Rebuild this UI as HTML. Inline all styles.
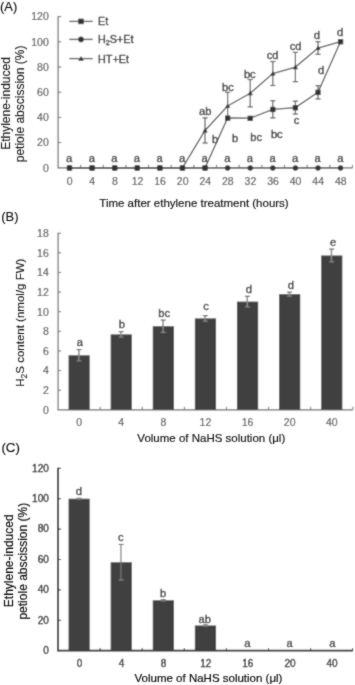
<!DOCTYPE html>
<html><head><meta charset="utf-8"><style>
html,body{margin:0;padding:0;background:#fff;width:355px;height:685px;overflow:hidden}
svg{display:block;font-family:"Liberation Sans", sans-serif;}
#w{will-change:transform;width:355px;height:685px}
text{stroke:currentColor;stroke-width:0.35px}
</style></head><body><div id="w">
<svg width="355" height="685" viewBox="0 0 355 685">
<defs><filter id="bl" x="0" y="0" width="355" height="685" filterUnits="userSpaceOnUse"><feConvolveMatrix order="3" kernelMatrix="1 2 1 2 12 2 1 2 1" divisor="24" edgeMode="none" preserveAlpha="false"/></filter><filter id="bl2" x="0" y="0" width="355" height="685" filterUnits="userSpaceOnUse"><feConvolveMatrix order="3" kernelMatrix="1 2 1 2 20 2 1 2 1" divisor="32" edgeMode="none" preserveAlpha="false"/></filter></defs>
<g filter="url(#bl)">
<rect width="355" height="685" fill="#fff"/>
<line x1="58.10" y1="16.10" x2="58.10" y2="167.80" stroke="#6a6a6a" stroke-width="1.2"/>
<line x1="57.50" y1="167.80" x2="352.50" y2="167.80" stroke="#6a6a6a" stroke-width="1.3"/>
<text x="48.80" y="171.60" font-size="10.5" text-anchor="end" fill="#4a4a4a" color="#4a4a4a" style="stroke-width:0.15px">0</text>
<line x1="58.10" y1="142.60" x2="61.30" y2="142.60" stroke="#6a6a6a" stroke-width="1"/>
<text x="48.80" y="146.40" font-size="10.5" text-anchor="end" fill="#4a4a4a" color="#4a4a4a" style="stroke-width:0.15px">20</text>
<line x1="58.10" y1="117.40" x2="61.30" y2="117.40" stroke="#6a6a6a" stroke-width="1"/>
<text x="48.80" y="121.20" font-size="10.5" text-anchor="end" fill="#4a4a4a" color="#4a4a4a" style="stroke-width:0.15px">40</text>
<line x1="58.10" y1="92.20" x2="61.30" y2="92.20" stroke="#6a6a6a" stroke-width="1"/>
<text x="48.80" y="96.00" font-size="10.5" text-anchor="end" fill="#4a4a4a" color="#4a4a4a" style="stroke-width:0.15px">60</text>
<line x1="58.10" y1="67.00" x2="61.30" y2="67.00" stroke="#6a6a6a" stroke-width="1"/>
<text x="48.80" y="70.80" font-size="10.5" text-anchor="end" fill="#4a4a4a" color="#4a4a4a" style="stroke-width:0.15px">80</text>
<line x1="58.10" y1="41.80" x2="61.30" y2="41.80" stroke="#6a6a6a" stroke-width="1"/>
<text x="48.80" y="45.60" font-size="10.5" text-anchor="end" fill="#4a4a4a" color="#4a4a4a" style="stroke-width:0.15px">100</text>
<line x1="58.10" y1="16.60" x2="61.30" y2="16.60" stroke="#6a6a6a" stroke-width="1"/>
<text x="48.80" y="20.40" font-size="10.5" text-anchor="end" fill="#4a4a4a" color="#4a4a4a" style="stroke-width:0.15px">120</text>
<line x1="80.65" y1="167.80" x2="80.65" y2="164.80" stroke="#6a6a6a" stroke-width="1"/>
<line x1="103.30" y1="167.80" x2="103.30" y2="164.80" stroke="#6a6a6a" stroke-width="1"/>
<line x1="125.95" y1="167.80" x2="125.95" y2="164.80" stroke="#6a6a6a" stroke-width="1"/>
<line x1="148.60" y1="167.80" x2="148.60" y2="164.80" stroke="#6a6a6a" stroke-width="1"/>
<line x1="171.25" y1="167.80" x2="171.25" y2="164.80" stroke="#6a6a6a" stroke-width="1"/>
<line x1="193.90" y1="167.80" x2="193.90" y2="164.80" stroke="#6a6a6a" stroke-width="1"/>
<line x1="216.55" y1="167.80" x2="216.55" y2="164.80" stroke="#6a6a6a" stroke-width="1"/>
<line x1="239.20" y1="167.80" x2="239.20" y2="164.80" stroke="#6a6a6a" stroke-width="1"/>
<line x1="261.85" y1="167.80" x2="261.85" y2="164.80" stroke="#6a6a6a" stroke-width="1"/>
<line x1="284.50" y1="167.80" x2="284.50" y2="164.80" stroke="#6a6a6a" stroke-width="1"/>
<line x1="307.15" y1="167.80" x2="307.15" y2="164.80" stroke="#6a6a6a" stroke-width="1"/>
<line x1="329.80" y1="167.80" x2="329.80" y2="164.80" stroke="#6a6a6a" stroke-width="1"/>
<line x1="352.45" y1="167.80" x2="352.45" y2="164.80" stroke="#6a6a6a" stroke-width="1"/>
<text x="69.70" y="184.60" font-size="10.5" text-anchor="middle" fill="#4a4a4a" color="#4a4a4a" style="stroke-width:0.15px">0</text>
<text x="92.29" y="184.60" font-size="10.5" text-anchor="middle" fill="#4a4a4a" color="#4a4a4a" style="stroke-width:0.15px">4</text>
<text x="114.88" y="184.60" font-size="10.5" text-anchor="middle" fill="#4a4a4a" color="#4a4a4a" style="stroke-width:0.15px">8</text>
<text x="137.47" y="184.60" font-size="10.5" text-anchor="middle" fill="#4a4a4a" color="#4a4a4a" style="stroke-width:0.15px">12</text>
<text x="160.06" y="184.60" font-size="10.5" text-anchor="middle" fill="#4a4a4a" color="#4a4a4a" style="stroke-width:0.15px">16</text>
<text x="182.65" y="184.60" font-size="10.5" text-anchor="middle" fill="#4a4a4a" color="#4a4a4a" style="stroke-width:0.15px">20</text>
<text x="205.24" y="184.60" font-size="10.5" text-anchor="middle" fill="#4a4a4a" color="#4a4a4a" style="stroke-width:0.15px">24</text>
<text x="227.83" y="184.60" font-size="10.5" text-anchor="middle" fill="#4a4a4a" color="#4a4a4a" style="stroke-width:0.15px">28</text>
<text x="250.42" y="184.60" font-size="10.5" text-anchor="middle" fill="#4a4a4a" color="#4a4a4a" style="stroke-width:0.15px">32</text>
<text x="273.01" y="184.60" font-size="10.5" text-anchor="middle" fill="#4a4a4a" color="#4a4a4a" style="stroke-width:0.15px">36</text>
<text x="295.60" y="184.60" font-size="10.5" text-anchor="middle" fill="#4a4a4a" color="#4a4a4a" style="stroke-width:0.15px">40</text>
<text x="318.19" y="184.60" font-size="10.5" text-anchor="middle" fill="#4a4a4a" color="#4a4a4a" style="stroke-width:0.15px">44</text>
<text x="340.78" y="184.60" font-size="10.5" text-anchor="middle" fill="#4a4a4a" color="#4a4a4a" style="stroke-width:0.15px">48</text>
<line x1="205.04" y1="117.90" x2="205.04" y2="143.00" stroke="#5a5a5a" stroke-width="1.2"/>
<line x1="202.44" y1="117.90" x2="207.64" y2="117.90" stroke="#5a5a5a" stroke-width="1.2"/>
<line x1="202.44" y1="143.00" x2="207.64" y2="143.00" stroke="#5a5a5a" stroke-width="1.2"/>
<line x1="227.63" y1="92.30" x2="227.63" y2="119.70" stroke="#5a5a5a" stroke-width="1.2"/>
<line x1="225.03" y1="92.30" x2="230.23" y2="92.30" stroke="#5a5a5a" stroke-width="1.2"/>
<line x1="225.03" y1="119.70" x2="230.23" y2="119.70" stroke="#5a5a5a" stroke-width="1.2"/>
<line x1="250.22" y1="79.50" x2="250.22" y2="106.90" stroke="#5a5a5a" stroke-width="1.2"/>
<line x1="247.62" y1="79.50" x2="252.82" y2="79.50" stroke="#5a5a5a" stroke-width="1.2"/>
<line x1="247.62" y1="106.90" x2="252.82" y2="106.90" stroke="#5a5a5a" stroke-width="1.2"/>
<line x1="272.81" y1="61.50" x2="272.81" y2="85.50" stroke="#5a5a5a" stroke-width="1.2"/>
<line x1="270.21" y1="61.50" x2="275.41" y2="61.50" stroke="#5a5a5a" stroke-width="1.2"/>
<line x1="270.21" y1="85.50" x2="275.41" y2="85.50" stroke="#5a5a5a" stroke-width="1.2"/>
<line x1="295.40" y1="52.40" x2="295.40" y2="81.70" stroke="#5a5a5a" stroke-width="1.2"/>
<line x1="292.80" y1="52.40" x2="298.00" y2="52.40" stroke="#5a5a5a" stroke-width="1.2"/>
<line x1="292.80" y1="81.70" x2="298.00" y2="81.70" stroke="#5a5a5a" stroke-width="1.2"/>
<line x1="317.99" y1="41.65" x2="317.99" y2="54.35" stroke="#5a5a5a" stroke-width="1.2"/>
<line x1="315.39" y1="41.65" x2="320.59" y2="41.65" stroke="#5a5a5a" stroke-width="1.2"/>
<line x1="315.39" y1="54.35" x2="320.59" y2="54.35" stroke="#5a5a5a" stroke-width="1.2"/>
<line x1="272.81" y1="100.70" x2="272.81" y2="117.90" stroke="#5a5a5a" stroke-width="1.2"/>
<line x1="270.21" y1="100.70" x2="275.41" y2="100.70" stroke="#5a5a5a" stroke-width="1.2"/>
<line x1="270.21" y1="117.90" x2="275.41" y2="117.90" stroke="#5a5a5a" stroke-width="1.2"/>
<line x1="295.40" y1="101.15" x2="295.40" y2="114.05" stroke="#5a5a5a" stroke-width="1.2"/>
<line x1="292.80" y1="101.15" x2="298.00" y2="101.15" stroke="#5a5a5a" stroke-width="1.2"/>
<line x1="292.80" y1="114.05" x2="298.00" y2="114.05" stroke="#5a5a5a" stroke-width="1.2"/>
<line x1="317.99" y1="85.60" x2="317.99" y2="98.90" stroke="#5a5a5a" stroke-width="1.2"/>
<line x1="315.39" y1="85.60" x2="320.59" y2="85.60" stroke="#5a5a5a" stroke-width="1.2"/>
<line x1="315.39" y1="98.90" x2="320.59" y2="98.90" stroke="#5a5a5a" stroke-width="1.2"/>
<polyline points="69.50,167.80 92.09,167.80 114.68,167.80 137.27,167.80 159.86,167.80 182.45,167.80 205.04,167.80 227.63,167.80 250.22,167.80 272.81,167.80 295.40,167.80 317.99,167.80 340.58,167.80" fill="none" stroke="#555" stroke-width="1.3"/>
<polyline points="69.50,167.80 92.09,167.80 114.68,167.80 137.27,167.80 159.86,167.80 182.45,167.80 205.04,130.45 227.63,106.00 250.22,93.20 272.81,73.50 295.40,67.05 317.99,48.00 340.58,41.60" fill="none" stroke="#555" stroke-width="1.3"/>
<polyline points="69.50,167.80 92.09,167.80 114.68,167.80 137.27,167.80 159.86,167.80 182.45,167.80 205.04,167.80 227.63,118.00 250.22,118.20 272.81,109.30 295.40,107.60 317.99,92.25 340.58,41.60" fill="none" stroke="#555" stroke-width="1.3"/>
<circle cx="69.50" cy="168.00" r="2.7" fill="#333"/>
<circle cx="92.09" cy="168.00" r="2.7" fill="#333"/>
<circle cx="114.68" cy="168.00" r="2.7" fill="#333"/>
<circle cx="137.27" cy="168.00" r="2.7" fill="#333"/>
<circle cx="159.86" cy="168.00" r="2.7" fill="#333"/>
<circle cx="182.45" cy="168.00" r="2.7" fill="#333"/>
<circle cx="205.04" cy="168.00" r="2.7" fill="#333"/>
<circle cx="227.63" cy="168.00" r="2.7" fill="#333"/>
<circle cx="250.22" cy="168.00" r="2.7" fill="#333"/>
<circle cx="272.81" cy="168.00" r="2.7" fill="#333"/>
<circle cx="295.40" cy="168.00" r="2.7" fill="#333"/>
<circle cx="317.99" cy="168.00" r="2.7" fill="#333"/>
<circle cx="340.58" cy="168.00" r="2.7" fill="#333"/>
<path d="M66.80,169.90 L69.50,165.30 L72.20,169.90 Z" fill="#333"/>
<path d="M89.39,169.90 L92.09,165.30 L94.79,169.90 Z" fill="#333"/>
<path d="M111.98,169.90 L114.68,165.30 L117.38,169.90 Z" fill="#333"/>
<path d="M134.57,169.90 L137.27,165.30 L139.97,169.90 Z" fill="#333"/>
<path d="M157.16,169.90 L159.86,165.30 L162.56,169.90 Z" fill="#333"/>
<path d="M179.75,169.90 L182.45,165.30 L185.15,169.90 Z" fill="#333"/>
<path d="M202.34,132.55 L205.04,127.95 L207.74,132.55 Z" fill="#333"/>
<path d="M224.93,108.10 L227.63,103.50 L230.33,108.10 Z" fill="#333"/>
<path d="M247.52,95.30 L250.22,90.70 L252.92,95.30 Z" fill="#333"/>
<path d="M270.11,75.60 L272.81,71.00 L275.51,75.60 Z" fill="#333"/>
<path d="M292.70,69.15 L295.40,64.55 L298.10,69.15 Z" fill="#333"/>
<path d="M315.29,50.10 L317.99,45.50 L320.69,50.10 Z" fill="#333"/>
<path d="M337.88,43.70 L340.58,39.10 L343.28,43.70 Z" fill="#333"/>
<rect x="66.85" y="165.30" width="5.30" height="5.30" fill="#333"/>
<rect x="89.44" y="165.30" width="5.30" height="5.30" fill="#333"/>
<rect x="112.03" y="165.30" width="5.30" height="5.30" fill="#333"/>
<rect x="134.62" y="165.30" width="5.30" height="5.30" fill="#333"/>
<rect x="157.21" y="165.30" width="5.30" height="5.30" fill="#333"/>
<rect x="179.80" y="165.30" width="5.30" height="5.30" fill="#333"/>
<rect x="202.39" y="165.30" width="5.30" height="5.30" fill="#333"/>
<rect x="224.98" y="115.50" width="5.30" height="5.30" fill="#333"/>
<rect x="247.57" y="115.70" width="5.30" height="5.30" fill="#333"/>
<rect x="270.16" y="106.80" width="5.30" height="5.30" fill="#333"/>
<rect x="292.75" y="105.10" width="5.30" height="5.30" fill="#333"/>
<rect x="315.34" y="89.75" width="5.30" height="5.30" fill="#333"/>
<rect x="337.93" y="39.10" width="5.30" height="5.30" fill="#333"/>
<text x="69.20" y="162.30" font-size="11.2" text-anchor="middle" fill="#2e2e2e" color="#2e2e2e" >a</text>
<text x="91.79" y="162.30" font-size="11.2" text-anchor="middle" fill="#2e2e2e" color="#2e2e2e" >a</text>
<text x="114.38" y="162.30" font-size="11.2" text-anchor="middle" fill="#2e2e2e" color="#2e2e2e" >a</text>
<text x="136.97" y="162.30" font-size="11.2" text-anchor="middle" fill="#2e2e2e" color="#2e2e2e" >a</text>
<text x="159.56" y="162.30" font-size="11.2" text-anchor="middle" fill="#2e2e2e" color="#2e2e2e" >a</text>
<text x="182.15" y="162.30" font-size="11.2" text-anchor="middle" fill="#2e2e2e" color="#2e2e2e" >a</text>
<text x="204.74" y="162.30" font-size="11.2" text-anchor="middle" fill="#2e2e2e" color="#2e2e2e" >a</text>
<text x="227.33" y="162.30" font-size="11.2" text-anchor="middle" fill="#2e2e2e" color="#2e2e2e" >a</text>
<text x="249.92" y="162.30" font-size="11.2" text-anchor="middle" fill="#2e2e2e" color="#2e2e2e" >a</text>
<text x="272.51" y="162.30" font-size="11.2" text-anchor="middle" fill="#2e2e2e" color="#2e2e2e" >a</text>
<text x="295.10" y="162.30" font-size="11.2" text-anchor="middle" fill="#2e2e2e" color="#2e2e2e" >a</text>
<text x="317.69" y="162.30" font-size="11.2" text-anchor="middle" fill="#2e2e2e" color="#2e2e2e" >a</text>
<text x="340.28" y="162.30" font-size="11.2" text-anchor="middle" fill="#2e2e2e" color="#2e2e2e" >a</text>
<text x="205.20" y="115.00" font-size="11.2" text-anchor="middle" fill="#2e2e2e" color="#2e2e2e" >ab</text>
<text x="228.00" y="91.20" font-size="11.2" text-anchor="middle" fill="#2e2e2e" color="#2e2e2e" >bc</text>
<text x="249.80" y="77.90" font-size="11.2" text-anchor="middle" fill="#2e2e2e" color="#2e2e2e" >bc</text>
<text x="272.60" y="58.60" font-size="11.2" text-anchor="middle" fill="#2e2e2e" color="#2e2e2e" >cd</text>
<text x="295.60" y="50.10" font-size="11.2" text-anchor="middle" fill="#2e2e2e" color="#2e2e2e" >cd</text>
<text x="316.90" y="39.40" font-size="11.2" text-anchor="middle" fill="#2e2e2e" color="#2e2e2e" >d</text>
<text x="340.20" y="36.00" font-size="11.2" text-anchor="middle" fill="#2e2e2e" color="#2e2e2e" >d</text>
<text x="215.20" y="142.50" font-size="11.2" text-anchor="middle" fill="#2e2e2e" color="#2e2e2e" >b</text>
<text x="235.00" y="142.00" font-size="11.2" text-anchor="middle" fill="#2e2e2e" color="#2e2e2e" >b</text>
<text x="256.10" y="140.80" font-size="11.2" text-anchor="middle" fill="#2e2e2e" color="#2e2e2e" >bc</text>
<text x="276.80" y="138.00" font-size="11.2" text-anchor="middle" fill="#2e2e2e" color="#2e2e2e" >bc</text>
<text x="296.50" y="123.90" font-size="11.2" text-anchor="middle" fill="#2e2e2e" color="#2e2e2e" >c</text>
<text x="321.20" y="74.20" font-size="11.2" text-anchor="middle" fill="#2e2e2e" color="#2e2e2e" >d</text>
<line x1="69.30" y1="21.40" x2="92.70" y2="21.40" stroke="#5a5a5a" stroke-width="1.4"/>
<rect x="78.25" y="18.65" width="5.50" height="5.50" fill="#333"/>
<text x="98.00" y="25.30" font-size="10.8" text-anchor="start" fill="#222" color="#222" >Et</text>
<line x1="69.30" y1="39.40" x2="92.70" y2="39.40" stroke="#5a5a5a" stroke-width="1.4"/>
<circle cx="81" cy="39.4" r="2.8" fill="#333"/>
<text x="98.00" y="43.30" font-size="10.8" text-anchor="start" fill="#222" color="#222" >H<tspan font-size="7.2" dy="1.8">2</tspan><tspan dy="-1.8">S+Et</tspan></text>
<line x1="69.30" y1="58.60" x2="92.70" y2="58.60" stroke="#5a5a5a" stroke-width="1.4"/>
<path d="M78.20,60.80 L81.00,56.00 L83.80,60.80 Z" fill="#333"/>
<text x="98.00" y="62.50" font-size="10.8" text-anchor="start" fill="#222" color="#222" >HT+Et</text>
<line x1="58.10" y1="232.72" x2="58.10" y2="409.80" stroke="#6a6a6a" stroke-width="1.2"/>
<line x1="57.50" y1="409.90" x2="352.80" y2="409.90" stroke="#6a6a6a" stroke-width="1.3"/>
<text x="48.80" y="413.60" font-size="10.5" text-anchor="end" fill="#4a4a4a" color="#4a4a4a" style="stroke-width:0.15px">0</text>
<line x1="58.10" y1="390.18" x2="61.10" y2="390.18" stroke="#6a6a6a" stroke-width="1"/>
<text x="48.80" y="393.98" font-size="10.5" text-anchor="end" fill="#4a4a4a" color="#4a4a4a" style="stroke-width:0.15px">2</text>
<line x1="58.10" y1="370.56" x2="61.10" y2="370.56" stroke="#6a6a6a" stroke-width="1"/>
<text x="48.80" y="374.36" font-size="10.5" text-anchor="end" fill="#4a4a4a" color="#4a4a4a" style="stroke-width:0.15px">4</text>
<line x1="58.10" y1="350.94" x2="61.10" y2="350.94" stroke="#6a6a6a" stroke-width="1"/>
<text x="48.80" y="354.74" font-size="10.5" text-anchor="end" fill="#4a4a4a" color="#4a4a4a" style="stroke-width:0.15px">6</text>
<line x1="58.10" y1="331.32" x2="61.10" y2="331.32" stroke="#6a6a6a" stroke-width="1"/>
<text x="48.80" y="335.12" font-size="10.5" text-anchor="end" fill="#4a4a4a" color="#4a4a4a" style="stroke-width:0.15px">8</text>
<line x1="58.10" y1="311.70" x2="61.10" y2="311.70" stroke="#6a6a6a" stroke-width="1"/>
<text x="48.80" y="315.50" font-size="10.5" text-anchor="end" fill="#4a4a4a" color="#4a4a4a" style="stroke-width:0.15px">10</text>
<line x1="58.10" y1="292.08" x2="61.10" y2="292.08" stroke="#6a6a6a" stroke-width="1"/>
<text x="48.80" y="295.88" font-size="10.5" text-anchor="end" fill="#4a4a4a" color="#4a4a4a" style="stroke-width:0.15px">12</text>
<line x1="58.10" y1="272.46" x2="61.10" y2="272.46" stroke="#6a6a6a" stroke-width="1"/>
<text x="48.80" y="276.26" font-size="10.5" text-anchor="end" fill="#4a4a4a" color="#4a4a4a" style="stroke-width:0.15px">14</text>
<line x1="58.10" y1="252.84" x2="61.10" y2="252.84" stroke="#6a6a6a" stroke-width="1"/>
<text x="48.80" y="256.64" font-size="10.5" text-anchor="end" fill="#4a4a4a" color="#4a4a4a" style="stroke-width:0.15px">16</text>
<line x1="58.10" y1="233.22" x2="61.10" y2="233.22" stroke="#6a6a6a" stroke-width="1"/>
<text x="48.80" y="237.02" font-size="10.5" text-anchor="end" fill="#4a4a4a" color="#4a4a4a" style="stroke-width:0.15px">18</text>
<line x1="100.20" y1="409.80" x2="100.20" y2="406.80" stroke="#6a6a6a" stroke-width="1"/>
<line x1="142.30" y1="409.80" x2="142.30" y2="406.80" stroke="#6a6a6a" stroke-width="1"/>
<line x1="184.40" y1="409.80" x2="184.40" y2="406.80" stroke="#6a6a6a" stroke-width="1"/>
<line x1="226.50" y1="409.80" x2="226.50" y2="406.80" stroke="#6a6a6a" stroke-width="1"/>
<line x1="268.60" y1="409.80" x2="268.60" y2="406.80" stroke="#6a6a6a" stroke-width="1"/>
<line x1="310.70" y1="409.80" x2="310.70" y2="406.80" stroke="#6a6a6a" stroke-width="1"/>
<line x1="352.80" y1="409.80" x2="352.80" y2="406.80" stroke="#6a6a6a" stroke-width="1"/>
<rect x="68.55" y="355.26" width="21.20" height="54.54" fill="#414141"/>
<line x1="78.85" y1="349.57" x2="78.85" y2="360.95" stroke="#8a8a8a" stroke-width="1.5"/>
<line x1="76.55" y1="349.57" x2="81.55" y2="349.57" stroke="#5a5a5a" stroke-width="1.1"/>
<line x1="76.55" y1="360.95" x2="81.55" y2="360.95" stroke="#8a8a8a" stroke-width="1.1"/>
<rect x="110.65" y="334.36" width="21.20" height="75.44" fill="#414141"/>
<line x1="120.95" y1="331.61" x2="120.95" y2="337.11" stroke="#8a8a8a" stroke-width="1.5"/>
<line x1="118.65" y1="331.61" x2="123.65" y2="331.61" stroke="#5a5a5a" stroke-width="1.1"/>
<line x1="118.65" y1="337.11" x2="123.65" y2="337.11" stroke="#8a8a8a" stroke-width="1.1"/>
<rect x="152.75" y="326.22" width="21.20" height="83.58" fill="#414141"/>
<line x1="163.05" y1="320.04" x2="163.05" y2="332.40" stroke="#8a8a8a" stroke-width="1.5"/>
<line x1="160.75" y1="320.04" x2="165.75" y2="320.04" stroke="#5a5a5a" stroke-width="1.1"/>
<line x1="160.75" y1="332.40" x2="165.75" y2="332.40" stroke="#8a8a8a" stroke-width="1.1"/>
<rect x="194.85" y="318.37" width="21.20" height="91.43" fill="#414141"/>
<line x1="205.15" y1="315.62" x2="205.15" y2="321.12" stroke="#8a8a8a" stroke-width="1.5"/>
<line x1="202.85" y1="315.62" x2="207.85" y2="315.62" stroke="#5a5a5a" stroke-width="1.1"/>
<line x1="202.85" y1="321.12" x2="207.85" y2="321.12" stroke="#8a8a8a" stroke-width="1.1"/>
<rect x="236.95" y="301.60" width="21.20" height="108.20" fill="#414141"/>
<line x1="247.25" y1="296.30" x2="247.25" y2="306.89" stroke="#8a8a8a" stroke-width="1.5"/>
<line x1="244.95" y1="296.30" x2="249.95" y2="296.30" stroke="#5a5a5a" stroke-width="1.1"/>
<line x1="244.95" y1="306.89" x2="249.95" y2="306.89" stroke="#8a8a8a" stroke-width="1.1"/>
<rect x="279.05" y="294.14" width="21.20" height="115.66" fill="#414141"/>
<line x1="289.35" y1="292.18" x2="289.35" y2="296.10" stroke="#8a8a8a" stroke-width="1.5"/>
<line x1="287.05" y1="292.18" x2="292.05" y2="292.18" stroke="#5a5a5a" stroke-width="1.1"/>
<line x1="287.05" y1="296.10" x2="292.05" y2="296.10" stroke="#8a8a8a" stroke-width="1.1"/>
<rect x="321.15" y="255.49" width="21.20" height="154.31" fill="#414141"/>
<line x1="331.45" y1="249.11" x2="331.45" y2="261.87" stroke="#8a8a8a" stroke-width="1.5"/>
<line x1="329.15" y1="249.11" x2="334.15" y2="249.11" stroke="#5a5a5a" stroke-width="1.1"/>
<line x1="329.15" y1="261.87" x2="334.15" y2="261.87" stroke="#8a8a8a" stroke-width="1.1"/>
<text x="79.75" y="345.60" font-size="11.2" text-anchor="middle" fill="#2e2e2e" color="#2e2e2e" >a</text>
<text x="121.80" y="328.10" font-size="11.2" text-anchor="middle" fill="#2e2e2e" color="#2e2e2e" >b</text>
<text x="164.20" y="316.60" font-size="11.2" text-anchor="middle" fill="#2e2e2e" color="#2e2e2e" >bc</text>
<text x="206.10" y="310.40" font-size="11.2" text-anchor="middle" fill="#2e2e2e" color="#2e2e2e" >c</text>
<text x="248.90" y="292.50" font-size="11.2" text-anchor="middle" fill="#2e2e2e" color="#2e2e2e" >d</text>
<text x="290.90" y="288.50" font-size="11.2" text-anchor="middle" fill="#2e2e2e" color="#2e2e2e" >d</text>
<text x="333.00" y="245.70" font-size="11.2" text-anchor="middle" fill="#2e2e2e" color="#2e2e2e" >e</text>
<text x="79.15" y="426.20" font-size="10.5" text-anchor="middle" fill="#4a4a4a" color="#4a4a4a" style="stroke-width:0.15px">0</text>
<text x="121.25" y="426.20" font-size="10.5" text-anchor="middle" fill="#4a4a4a" color="#4a4a4a" style="stroke-width:0.15px">4</text>
<text x="163.35" y="426.20" font-size="10.5" text-anchor="middle" fill="#4a4a4a" color="#4a4a4a" style="stroke-width:0.15px">8</text>
<text x="205.45" y="426.20" font-size="10.5" text-anchor="middle" fill="#4a4a4a" color="#4a4a4a" style="stroke-width:0.15px">12</text>
<text x="247.55" y="426.20" font-size="10.5" text-anchor="middle" fill="#4a4a4a" color="#4a4a4a" style="stroke-width:0.15px">16</text>
<text x="289.65" y="426.20" font-size="10.5" text-anchor="middle" fill="#4a4a4a" color="#4a4a4a" style="stroke-width:0.15px">20</text>
<text x="331.75" y="426.20" font-size="10.5" text-anchor="middle" fill="#4a4a4a" color="#4a4a4a" style="stroke-width:0.15px">40</text>
<line x1="58.00" y1="467.80" x2="58.00" y2="650.70" stroke="#1a1a1a" stroke-width="1.8"/>
<line x1="57.10" y1="650.70" x2="352.80" y2="650.70" stroke="#1a1a1a" stroke-width="1.8"/>
<text x="48.80" y="654.00" font-size="10" text-anchor="end" fill="#1a1a1a" color="#1a1a1a" >0</text>
<line x1="58.00" y1="620.30" x2="61.00" y2="620.30" stroke="#1a1a1a" stroke-width="1"/>
<text x="48.80" y="623.60" font-size="10" text-anchor="end" fill="#1a1a1a" color="#1a1a1a" >20</text>
<line x1="58.00" y1="589.90" x2="61.00" y2="589.90" stroke="#1a1a1a" stroke-width="1"/>
<text x="48.80" y="593.20" font-size="10" text-anchor="end" fill="#1a1a1a" color="#1a1a1a" >40</text>
<line x1="58.00" y1="559.50" x2="61.00" y2="559.50" stroke="#1a1a1a" stroke-width="1"/>
<text x="48.80" y="562.80" font-size="10" text-anchor="end" fill="#1a1a1a" color="#1a1a1a" >60</text>
<line x1="58.00" y1="529.10" x2="61.00" y2="529.10" stroke="#1a1a1a" stroke-width="1"/>
<text x="48.80" y="532.40" font-size="10" text-anchor="end" fill="#1a1a1a" color="#1a1a1a" >80</text>
<line x1="58.00" y1="498.70" x2="61.00" y2="498.70" stroke="#1a1a1a" stroke-width="1"/>
<text x="48.80" y="502.00" font-size="10" text-anchor="end" fill="#1a1a1a" color="#1a1a1a" >100</text>
<line x1="58.00" y1="468.30" x2="61.00" y2="468.30" stroke="#1a1a1a" stroke-width="1"/>
<text x="48.80" y="471.60" font-size="10" text-anchor="end" fill="#1a1a1a" color="#1a1a1a" >120</text>
<line x1="100.10" y1="650.70" x2="100.10" y2="648.20" stroke="#1a1a1a" stroke-width="1"/>
<line x1="142.20" y1="650.70" x2="142.20" y2="648.20" stroke="#1a1a1a" stroke-width="1"/>
<line x1="184.30" y1="650.70" x2="184.30" y2="648.20" stroke="#1a1a1a" stroke-width="1"/>
<line x1="226.40" y1="650.70" x2="226.40" y2="648.20" stroke="#1a1a1a" stroke-width="1"/>
<line x1="268.50" y1="650.70" x2="268.50" y2="648.20" stroke="#1a1a1a" stroke-width="1"/>
<line x1="310.60" y1="650.70" x2="310.60" y2="648.20" stroke="#1a1a1a" stroke-width="1"/>
<line x1="352.70" y1="650.70" x2="352.70" y2="648.20" stroke="#1a1a1a" stroke-width="1"/>
<rect x="68.55" y="498.70" width="21.20" height="152.00" fill="#414141"/>
<line x1="78.85" y1="498.24" x2="78.85" y2="499.16" stroke="#7a7a7a" stroke-width="1.2"/>
<line x1="76.55" y1="498.24" x2="81.55" y2="498.24" stroke="#6a6a6a" stroke-width="1.1"/>
<line x1="76.55" y1="499.16" x2="81.55" y2="499.16" stroke="#8a8a8a" stroke-width="1.1"/>
<rect x="110.65" y="562.24" width="21.20" height="88.46" fill="#414141"/>
<line x1="120.95" y1="544.45" x2="120.95" y2="580.02" stroke="#7a7a7a" stroke-width="1.2"/>
<line x1="118.65" y1="544.45" x2="123.65" y2="544.45" stroke="#6a6a6a" stroke-width="1.1"/>
<line x1="118.65" y1="580.02" x2="123.65" y2="580.02" stroke="#8a8a8a" stroke-width="1.1"/>
<rect x="152.75" y="600.24" width="21.20" height="50.46" fill="#414141"/>
<line x1="163.05" y1="599.63" x2="163.05" y2="600.84" stroke="#7a7a7a" stroke-width="1.2"/>
<line x1="160.75" y1="599.63" x2="165.75" y2="599.63" stroke="#6a6a6a" stroke-width="1.1"/>
<line x1="160.75" y1="600.84" x2="165.75" y2="600.84" stroke="#8a8a8a" stroke-width="1.1"/>
<rect x="194.85" y="625.47" width="21.20" height="25.23" fill="#414141"/>
<line x1="205.15" y1="624.86" x2="205.15" y2="626.08" stroke="#7a7a7a" stroke-width="1.2"/>
<line x1="202.85" y1="624.86" x2="207.85" y2="624.86" stroke="#6a6a6a" stroke-width="1.1"/>
<line x1="202.85" y1="626.08" x2="207.85" y2="626.08" stroke="#8a8a8a" stroke-width="1.1"/>
<text x="78.90" y="495.10" font-size="11.2" text-anchor="middle" fill="#2e2e2e" color="#2e2e2e" >d</text>
<text x="120.75" y="540.80" font-size="11.2" text-anchor="middle" fill="#2e2e2e" color="#2e2e2e" >c</text>
<text x="163.20" y="597.10" font-size="11.2" text-anchor="middle" fill="#2e2e2e" color="#2e2e2e" >b</text>
<text x="204.80" y="622.80" font-size="11.2" text-anchor="middle" fill="#2e2e2e" color="#2e2e2e" >ab</text>
<text x="247.40" y="647.40" font-size="11.2" text-anchor="middle" fill="#2e2e2e" color="#2e2e2e" >a</text>
<text x="289.60" y="647.40" font-size="11.2" text-anchor="middle" fill="#2e2e2e" color="#2e2e2e" >a</text>
<text x="332.30" y="647.40" font-size="11.2" text-anchor="middle" fill="#2e2e2e" color="#2e2e2e" >a</text>
<text x="79.45" y="666.50" font-size="10" text-anchor="middle" fill="#1a1a1a" color="#1a1a1a" >0</text>
<text x="121.55" y="666.50" font-size="10" text-anchor="middle" fill="#1a1a1a" color="#1a1a1a" >4</text>
<text x="163.65" y="666.50" font-size="10" text-anchor="middle" fill="#1a1a1a" color="#1a1a1a" >8</text>
<text x="205.75" y="666.50" font-size="10" text-anchor="middle" fill="#1a1a1a" color="#1a1a1a" >12</text>
<text x="247.85" y="666.50" font-size="10" text-anchor="middle" fill="#1a1a1a" color="#1a1a1a" >16</text>
<text x="289.95" y="666.50" font-size="10" text-anchor="middle" fill="#1a1a1a" color="#1a1a1a" >20</text>
<text x="332.05" y="666.50" font-size="10" text-anchor="middle" fill="#1a1a1a" color="#1a1a1a" >40</text>
</g>
<g filter="url(#bl2)">
<text transform="translate(0,10.8) scale(0.95,1)" font-size="13.6" fill="#111" color="#111" style="stroke-width:0.15px">(A)</text>
<text x="194.00" y="207.30" font-size="11.5" text-anchor="middle" fill="#1c1c1c" color="#1c1c1c" style="stroke-width:0.2px">Time after ethylene treatment (hours)</text>
<text transform="translate(10,103.5) rotate(-90)" style="stroke-width:0.12px" font-size="12" text-anchor="middle" fill="#1c1c1c" color="#1c1c1c">Ethylene-induced</text>
<text transform="translate(23.8,103.9) rotate(-90)" style="stroke-width:0.12px" font-size="12" text-anchor="middle" fill="#1c1c1c" color="#1c1c1c">petiole abscission (%)</text>
<text transform="translate(1.3,221.1) scale(0.95,1)" font-size="13.6" fill="#111" color="#111" style="stroke-width:0.15px">(B)</text>
<text x="211.30" y="441.60" font-size="11.5" text-anchor="middle" fill="#1c1c1c" color="#1c1c1c" style="stroke-width:0.2px">Volume of NaHS solution (μl)</text>
<text transform="translate(24.4,322.7) rotate(-90)" style="stroke-width:0.12px" font-size="11.5" text-anchor="middle" fill="#1c1c1c" color="#1c1c1c">H<tspan font-size="8.5" dy="2.8">2</tspan><tspan dy="-2.8">S content (nmol/g FW)</tspan></text>
<text transform="translate(1.4,452.0) scale(0.98,1)" font-size="13.6" fill="#111" color="#111" style="stroke-width:0.15px">(C)</text>
<text x="208.50" y="681.60" font-size="11.5" text-anchor="middle" fill="#111" color="#111" style="stroke-width:0.2px">Volume of NaHS solution (μl)</text>
<text transform="translate(13.1,560.8) rotate(-90)" style="stroke-width:0.2px" font-size="12" text-anchor="middle" fill="#111" color="#111">Ethylene-induced</text>
<text transform="translate(26.6,561.2) rotate(-90)" style="stroke-width:0.2px" font-size="12" text-anchor="middle" fill="#111" color="#111">petiole abscission (%)</text>
</g>
</svg></div></body></html>
